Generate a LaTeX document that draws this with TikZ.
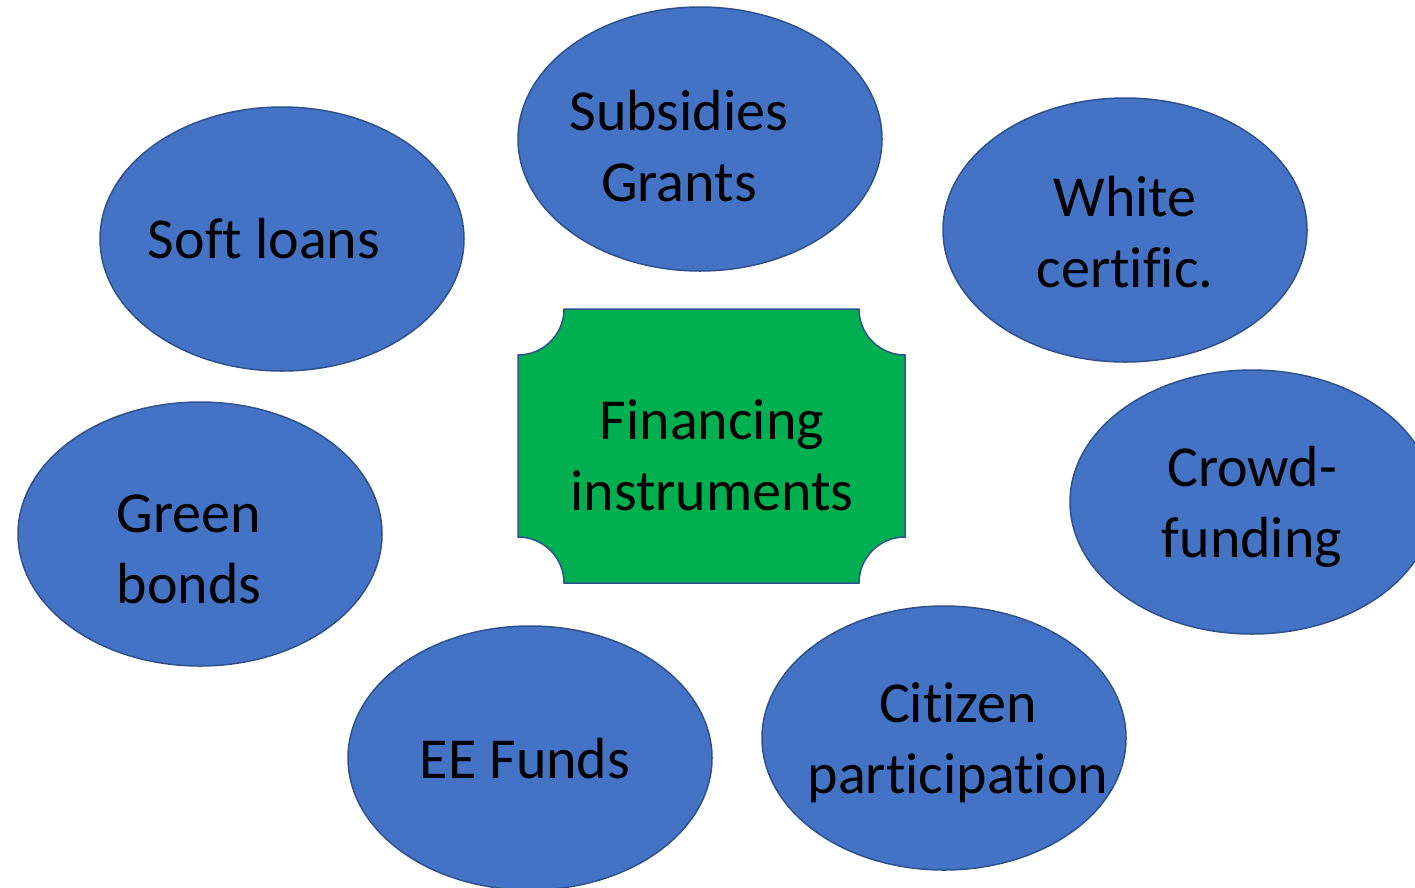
\documentclass[tikz,border=0pt]{standalone}
\usepackage{fontspec}
\setmainfont{Carlito}[RawFeature={-liga;-clig;-calt;-dlig}]
\usetikzlibrary{calc,shapes.geometric}
\definecolor{blobfill}{RGB}{68,114,196}
\definecolor{blobline}{RGB}{47,82,143}
\definecolor{green}{RGB}{0,176,80}

\begin{document}
\begin{tikzpicture}[x=1pt,y=-1pt,
  blob/.style={draw=blobline,line width=1.5pt,fill=blobfill,ellipse,minimum width=364pt,minimum height=264pt,inner sep=0pt},
  txt/.style={align=center,font=\fontsize{58}{71}\selectfont,inner sep=0pt}]
\useasboundingbox (0,0) rectangle (1415,887);
\clip (0,0) rectangle (1415,887);
% the seven instruments
\node[blob] (soft) at (282,239) {};
\node[blob] (subs) at (700,139) {};
\node[blob] (white) at (1125,230) {};
\node[blob] (crowd) at (1252,502) {};
\node[blob] (green) at (200,534) {};
\node[blob] (ee) at (530,758) {};
\node[blob] (cit) at (944,738) {};
\node[txt] (softT) at ($(soft.center)+(-18,0)$) {Soft loans};
\node[txt] (subsT) at ($(subs.center)+(-21,7)$) {Subsidies\\Grants};
\node[txt] (whiteT) at ($(white.center)+(0,2)$) {White\\certific.};
\node[txt] (crowdT) at ($(crowd.center)+(0,5)$) {Crowd-\\funding};
\node[txt] (greenT) at ($(green.center)+(-11,15)$) {Green\\bonds};
\node[txt] (eeT) at ($(ee.center)+(-5,1)$) {EE Funds};
\node[txt] (citT) at ($(cit.center)+(14,5)$) {Citizen\\participation};
% centre plaque with scooped corners
\draw[draw=blobline,line width=1.5pt,fill=green]
  (564,309) -- (859,309) arc[start angle=180,end angle=90,radius=46]
  -- (905,537) arc[start angle=270,end angle=180,radius=46]
  -- (564,583) arc[start angle=360,end angle=270,radius=46]
  -- (518,355) arc[start angle=90,end angle=0,radius=46] -- cycle;
\node[txt] (fin) at (712,455) {Financing\\instruments};
\end{tikzpicture}
\end{document}
